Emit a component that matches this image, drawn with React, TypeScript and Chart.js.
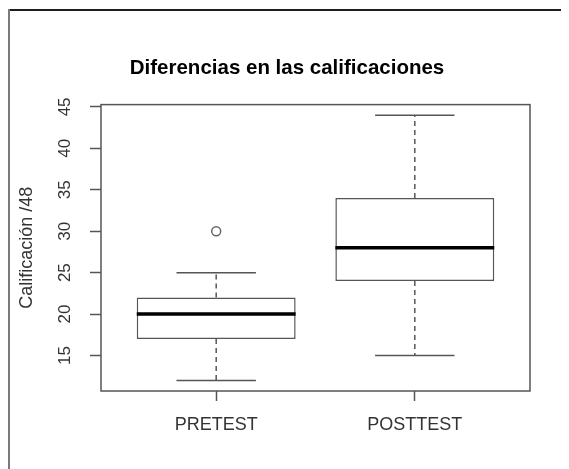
import React, { useEffect, useRef } from "react";
import { Chart, registerables } from "chart.js";

Chart.register(...registerables);

// ---- data ----
const categories = ["PRETEST", "POSTTEST"];
const groupPositions = [1, 2];
const whiskerLow = [12, 15];
const quartile1 = [17, 24];
const medians = [20, 28];
const quartile3 = [22, 34];
const whiskerHigh = [25, 44];
const outlierGroups = [1];
const outlierValues = [30];
const yTickValues = [15, 20, 25, 30, 35, 40, 45];

const chartTitle = "Diferencias en las calificaciones";
const yAxisTitle = "Calificación /48";

// ---- scale ranges (R style 4% extension) ----
const X_MIN = 0.42;
const X_MAX = 2.58;
const Y_MIN = 10.72;
const Y_MAX = 45.28;

const BOX_HALF = 0.4;
const CAP_HALF = 0.2;

const FONT = "'Liberation Sans', Arial, sans-serif";
const LINE_GRAY = "#555555";

type Pt = { x: number; y: number | null };

function segments(pairs: [Pt, Pt][]): Pt[] {
  const out: Pt[] = [];
  pairs.forEach(([a, b]) => {
    out.push(a, b, { x: (a.x + b.x) / 2, y: null });
  });
  return out;
}

const medianSegs = segments(
  groupPositions.map((c, i) => [
    { x: c - BOX_HALF, y: medians[i] },
    { x: c + BOX_HALF, y: medians[i] },
  ])
);

const whiskerSegs = segments(
  groupPositions.flatMap((c, i) => [
    [
      { x: c, y: quartile3[i] },
      { x: c, y: whiskerHigh[i] },
    ] as [Pt, Pt],
    [
      { x: c, y: quartile1[i] },
      { x: c, y: whiskerLow[i] },
    ] as [Pt, Pt],
  ])
);

const capSegs = segments(
  groupPositions.flatMap((c, i) => [
    [
      { x: c - CAP_HALF, y: whiskerHigh[i] },
      { x: c + CAP_HALF, y: whiskerHigh[i] },
    ] as [Pt, Pt],
    [
      { x: c - CAP_HALF, y: whiskerLow[i] },
      { x: c + CAP_HALF, y: whiskerLow[i] },
    ] as [Pt, Pt],
  ])
);

const framePlugin = {
  id: "frameBox",
  beforeDatasetsDraw(chart: any) {
    const { ctx, chartArea } = chart;
    ctx.save();
    ctx.strokeStyle = LINE_GRAY;
    ctx.lineWidth = 1.5;
    ctx.strokeRect(chartArea.left, chartArea.top, chartArea.right - chartArea.left, chartArea.bottom - chartArea.top);
    ctx.restore();
  },
};

export default function App() {
  const ref = useRef<HTMLCanvasElement | null>(null);

  useEffect(() => {
    if (!ref.current) return;
    const chart = new Chart(ref.current, {
      type: "bar",
      data: {
        datasets: [
          {
            type: "line",
            label: "whiskers",
            data: whiskerSegs as any,
            borderColor: LINE_GRAY,
            borderWidth: 1.5,
            borderDash: [5, 4],
            pointRadius: 0,
            spanGaps: false,
            order: 3,
          } as any,
          {
            type: "bar",
            label: "box",
            data: groupPositions.map((c, i) => ({ x: c, y: [quartile1[i], quartile3[i]] })) as any,
            backgroundColor: "#ffffff",
            borderColor: LINE_GRAY,
            borderWidth: 1.5,
            borderSkipped: false,
            barPercentage: 0.8,
            categoryPercentage: 1,
            order: 2,
          } as any,
          {
            type: "line",
            label: "caps",
            data: capSegs as any,
            borderColor: LINE_GRAY,
            borderWidth: 1.5,
            pointRadius: 0,
            spanGaps: false,
            order: 1,
          } as any,
          {
            type: "line",
            label: "median",
            data: medianSegs as any,
            borderColor: "#000000",
            borderWidth: 3.5,
            pointRadius: 0,
            spanGaps: false,
            order: 0,
          } as any,
          {
            type: "scatter",
            label: "outliers",
            data: outlierGroups.map((g, i) => ({ x: g, y: outlierValues[i] })),
            pointRadius: 4.5,
            pointBackgroundColor: "#ffffff",
            pointBorderColor: "#666666",
            pointBorderWidth: 1.5,
            order: 0,
          } as any,
        ],
      },
      options: {
        animation: false,
        responsive: false,
        devicePixelRatio: 1,
        layout: { padding: { left: 18, right: 21, top: 0, bottom: 0 } },
        plugins: {
          legend: { display: false },
          tooltip: { enabled: false },
          title: {
            display: true,
            text: chartTitle,
            color: "#000000",
            font: { family: FONT, size: 20.5, weight: "bold" },
            padding: { top: 48, bottom: 24 },
          },
        },
        scales: {
          x: {
            type: "linear",
            min: X_MIN,
            max: X_MAX,
            offset: false,
            afterBuildTicks: (scale: any) => {
              scale.ticks = groupPositions.map((v) => ({ value: v }));
            },
            afterFit: (scale: any) => {
              scale.height = 78;
            },
            ticks: {
              callback: (v: any) => {
                const idx = groupPositions.indexOf(Number(v));
                return idx >= 0 ? categories[idx] : "";
              },
              color: "#333333",
              font: { family: FONT, size: 18 },
              padding: 13,
              maxRotation: 0,
              autoSkip: false,
            },
            grid: {
              offset: false,
              drawOnChartArea: false,
              drawTicks: true,
              tickLength: 10,
              tickWidth: 1.5,
              tickColor: LINE_GRAY,
            },
            border: { display: false },
          },
          y: {
            type: "linear",
            min: Y_MIN,
            max: Y_MAX,
            afterBuildTicks: (scale: any) => {
              scale.ticks = yTickValues.map((v) => ({ value: v }));
            },
            afterFit: (scale: any) => {
              scale.width = 75;
            },
            ticks: {
              color: "#333333",
              font: { family: FONT, size: 17 },
              minRotation: 90,
              maxRotation: 90,
              crossAlign: "center",
              padding: 15,
              autoSkip: false,
            },
            grid: {
              offset: false,
              drawOnChartArea: false,
              drawTicks: true,
              tickLength: 11,
              tickWidth: 1.5,
              tickColor: LINE_GRAY,
            },
            border: { display: false },
            title: {
              display: true,
              text: yAxisTitle,
              color: "#333333",
              font: { family: FONT, size: 18 },
              padding: { top: -10, bottom: 0 },
            },
          },
          rightSpace: {
            type: "linear",
            position: "right",
            display: true,
            ticks: { display: false },
            grid: { display: false, drawTicks: false },
            border: { display: false },
            afterFit: (scale: any) => {
              scale.width = 18;
            },
          },
        },
      } as any,
      plugins: [framePlugin],
    });
    return () => chart.destroy();
  }, []);

  return (
    <div style={{ position: "relative", width: 561, height: 461 }}>
      <canvas ref={ref} width={561} height={461} style={{ position: "absolute", left: 0, top: 0 }} />
      <div style={{ position: "absolute", left: 0, top: 1, width: 561, height: 2, background: "#1e1e1e" }} />
      <div style={{ position: "absolute", left: 0, top: 1, width: 2, height: 460, background: "#7a7a7a" }} />
    </div>
  );
}
